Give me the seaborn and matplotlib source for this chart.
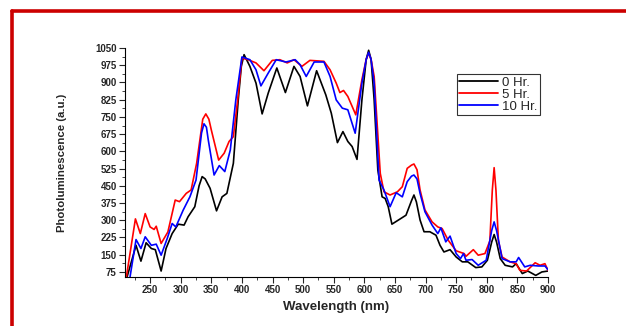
import numpy as np
import pandas as pd
import matplotlib
matplotlib.use('Agg')
import matplotlib.pyplot as plt
import seaborn as sns
from matplotlib.ticker import MultipleLocator

# wavelength / intensity
wl_0 = [212, 227, 235, 243.5, 252, 258.5, 268, 276, 286, 296, 305.5, 312, 323, 330, 335, 340,
        348, 358.5, 367.6, 375.4, 386, 394, 399, 403.5, 413, 423, 433, 443, 457, 471, 485,
        495, 507, 522, 537, 546, 556, 565, 573, 580, 588, 596, 603, 607, 611, 616, 622, 629,
        634, 639, 645, 658, 668, 677, 681, 685, 691, 697.5, 707, 717, 723.6, 730, 740, 750,
        760, 769, 782, 792, 801, 808, 812, 816, 822, 830, 842, 848, 858, 867, 880, 890, 900]
pl_0 = [50, 191, 122, 202, 177, 172, 79, 177, 242, 283, 279, 315, 359, 450, 490, 480,
        439, 341, 402, 417, 548, 824, 970, 1021, 970, 897, 763, 854, 963, 856, 970,
        926, 798, 951, 846, 766, 638, 686, 643, 621, 565, 824, 1000, 1040, 1000, 824, 519, 402,
        395, 359, 283, 305, 322, 385, 410, 380, 301, 250, 250, 235, 191, 162, 172, 140,
        119, 119, 94, 97, 126, 205, 238, 205, 133, 104, 97, 111, 68, 79, 60, 75, 79]

wl_5 = [211, 226, 234, 242, 250, 256.5, 260, 268, 279, 291, 298, 309, 317, 326, 336, 341, 346,
        350, 362, 371, 379, 386, 393, 400, 410, 423, 436, 449.6, 462, 474, 485, 498, 511, 534,
        544, 554, 560, 566, 573, 586, 596, 603, 607, 611, 616, 626, 632, 642, 654, 662, 670,
        677, 681, 686, 691, 699, 710.6, 720, 727, 737, 750, 763, 766, 778, 786, 797, 805, 809,
        812, 815, 819, 825, 838, 848, 854, 865, 879, 887, 895, 900]
pl_5 = [50, 306, 242, 329, 271, 260, 274, 199, 249, 388, 381, 417, 432, 548, 740, 763, 740,
        693, 562, 592, 643, 664, 824, 1006, 999, 985, 951, 996, 999, 985, 999, 970, 996, 992,
        955, 897, 856, 865, 839, 759, 912, 1000, 1028, 1000, 926, 504, 424, 410, 424, 446, 526,
        540, 545, 520, 432, 345, 293, 271, 264, 213, 167, 155, 143, 172, 148, 155, 210, 430,
        529, 430, 210, 140, 119, 111, 82, 79, 115, 104, 111, 82]

wl_10 = [217, 227, 235, 242, 252, 260, 268, 278, 286, 292, 304, 315, 325, 334, 338, 342, 345,
         354.5, 363, 372, 381, 390, 400, 413, 423, 431, 443, 456, 472, 487, 495, 505, 518, 534,
         544, 554, 564, 573, 585, 596, 603, 607, 611, 616, 624, 632, 642, 652, 662, 670, 677,
         681, 686, 691, 699, 710.6, 720, 725, 733, 740, 750, 757, 762, 766, 776, 786, 799, 808,
         812, 816, 825, 838, 848, 852, 862, 871, 884, 895, 900]
pl_10 = [50, 216, 177, 228, 191, 196, 148, 221, 286, 271, 344, 402, 475, 680, 720, 705, 650,
         497, 538, 512, 606, 824, 1011, 999, 955, 885, 941, 999, 989, 999, 977, 926, 989, 989,
         926, 824, 788, 781, 679, 897, 1000, 1031, 1000, 897, 475, 432, 359, 420, 402, 468, 492,
         497, 480, 417, 337, 279, 242, 267, 206, 231, 155, 133, 155, 126, 129, 104, 126, 255,
         293, 255, 133, 119, 119, 138, 97, 104, 101, 101, 85]

labels = ['0 Hr.', '5 Hr.', '10 Hr.']
colors = ['#000000', '#ff0000', '#0000ff']

df = pd.concat([
    pd.DataFrame({'Wavelength': wl_0, 'PL': pl_0, 'Sample': labels[0]}),
    pd.DataFrame({'Wavelength': wl_5, 'PL': pl_5, 'Sample': labels[1]}),
    pd.DataFrame({'Wavelength': wl_10, 'PL': pl_10, 'Sample': labels[2]}),
])

sns.set_style('white')
plt.rcParams['font.family'] = ['Liberation Sans', 'DejaVu Sans']

fig = plt.figure(figsize=(6.26, 3.26), dpi=100)
ax = fig.add_axes([0.1997, 0.1503, 0.6757, 0.7025])

sns.lineplot(data=df, x='Wavelength', y='PL', hue='Sample', palette=colors,
             hue_order=labels, sort=False, estimator=None, linewidth=1.2, ax=ax)

ax.set_xticks(np.arange(250, 901, 50))
ax.xaxis.set_minor_locator(MultipleLocator(25))
ax.set_yticks(np.arange(75, 1051, 75))
ax.yaxis.set_minor_locator(MultipleLocator(37.5))
ax.set_xlim(209, 900)
ax.set_ylim(53, 1050)

for s in ['top', 'right']:
    ax.spines[s].set_visible(False)
for s in ['left', 'bottom']:
    ax.spines[s].set_color('black')
    ax.spines[s].set_linewidth(0.8)

ax.tick_params(axis='both', which='major', direction='out', length=4, width=0.8,
               labelsize=7, pad=2, left=True, bottom=True)
ax.tick_params(axis='both', which='minor', direction='out', length=2, width=0.6,
               left=True, bottom=True)
for lab in ax.get_xticklabels() + ax.get_yticklabels():
    lab.set_fontweight('bold')

ax.set_xlabel('Wavelength (nm)', fontsize=9.5, fontweight='bold', labelpad=4)
ax.set_ylabel('Photoluminescence (a.u.)', fontsize=8.2, fontweight='bold', labelpad=20)

leg = ax.legend(loc='upper left', bbox_to_anchor=(0.784, 0.885), fontsize=9.5,
                frameon=True, fancybox=False, handlelength=3.0, handletextpad=0.3,
                borderpad=0.15, labelspacing=0.0, borderaxespad=0)
leg.get_frame().set_edgecolor('black')
leg.get_frame().set_linewidth(0.8)
for h in leg.get_lines():
    h.set_linewidth(1.3)

# red frame around the figure (top and left edges)
fig.add_artist(plt.Line2D([12 / 626, 1.0], [1 - 11 / 326, 1 - 11 / 326],
                          transform=fig.transFigure, color='#cc0000', linewidth=2.6))
fig.add_artist(plt.Line2D([12 / 626, 12 / 626], [1 - 11 / 326, 0.0],
                          transform=fig.transFigure, color='#cc0000', linewidth=2.6))

fig.savefig('out.png', dpi=100)
